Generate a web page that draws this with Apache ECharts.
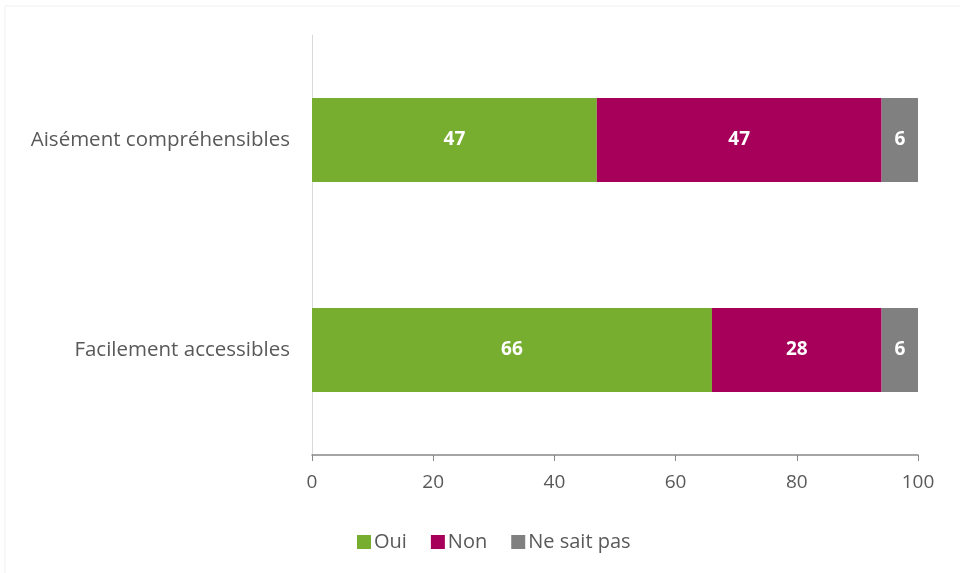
<!DOCTYPE html>
<html><head><meta charset="utf-8">
<script src="https://cdn.jsdelivr.net/npm/echarts@6/dist/echarts.min.js"></script>
<style>html,body{margin:0;padding:0;background:#fff}#c{width:960px;height:573px}</style>
</head><body><div id="c"></div>
<script>
const categories = ["Facilement accessibles", "Aisément compréhensibles"];
const oui = [66, 47];
const non = [28, 47];
const nsp = [6, 6];
const xTicks = [0, 20, 40, 60, 80, 100];

const chart = echarts.init(document.getElementById('c'), null, {renderer: 'canvas'});
const lbl = {show: true, position: 'inside', color: '#fff', fontWeight: 'bold', fontSize: 19, fontFamily: 'Open Sans'};
chart.setOption({
  animation: false,
  backgroundColor: '#fff',
  graphic: [{type: 'rect', shape: {x: 5, y: 6, width: 960, height: 580}, style: {fill: 'none', stroke: '#f0f0f0', lineWidth: 1}, silent: true}],
  grid: {left: 312, right: 42, top: 35, bottom: 118},
  legend: {
    top: 527, left: 352, itemWidth: 14, itemHeight: 14, itemGap: 24,
    icon: 'rect',
    textStyle: {fontFamily: 'Open Sans', fontSize: 20, color: '#595959', padding: [0, 0, 0, -2]},
    data: ['Oui', 'Non', 'Ne sait pas']
  },
  xAxis: {
    type: 'value', min: xTicks[0], max: xTicks[xTicks.length - 1], interval: 20,
    axisLine: {show: true, lineStyle: {color: '#888', width: 1.5}},
    axisTick: {show: true, length: 6, lineStyle: {color: '#888'}},
    splitLine: {show: false},
    axisLabel: {fontFamily: 'Open Sans', fontSize: 19, color: '#595959', margin: 18}
  },
  yAxis: {
    type: 'category', data: categories,
    axisLine: {show: true, lineStyle: {color: '#d9d9d9'}},
    axisTick: {show: false},
    axisLabel: {fontFamily: 'Open Sans', fontSize: 20.5, color: '#595959', margin: 22}
  },
  series: [
    {name: 'Oui', type: 'bar', stack: 's', data: oui, barCategoryGap: '60%', itemStyle: {color: '#78ae30'}, label: lbl},
    {name: 'Non', type: 'bar', stack: 's', data: non, itemStyle: {color: '#a6005a'}, label: lbl},
    {name: 'Ne sait pas', type: 'bar', stack: 's', data: nsp, itemStyle: {color: '#808080'}, label: lbl}
  ]
});
</script></body></html>
